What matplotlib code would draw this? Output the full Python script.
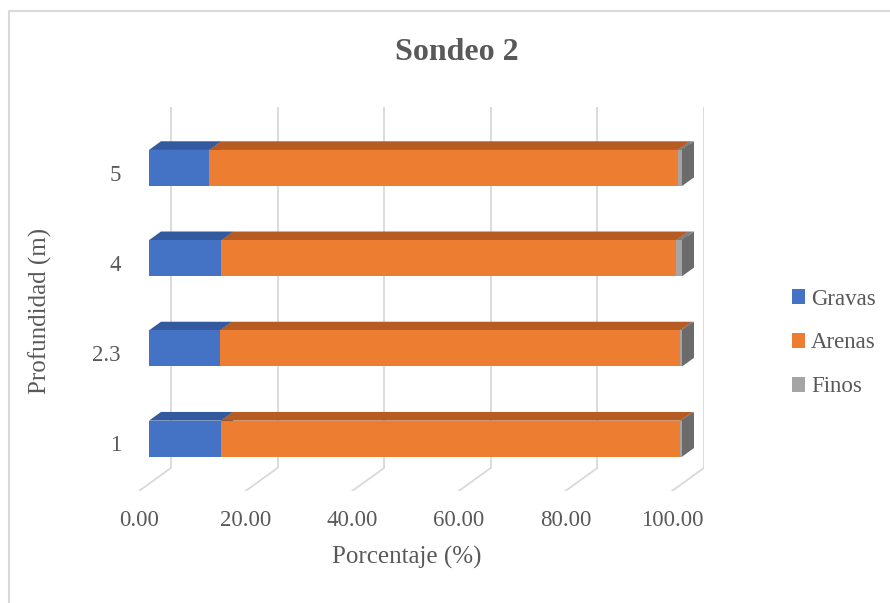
import matplotlib
matplotlib.use("Agg")
import matplotlib.pyplot as plt
from matplotlib.patches import Polygon, Patch
from matplotlib.lines import Line2D

# data
depths = ["1", "2.3", "4", "5"]
gravas = [13.5, 13.3, 13.6, 11.3]
arenas = [86.2, 86.3, 85.3, 87.9]
finos = [0.3, 0.4, 1.1, 0.8]
series_names = ["Gravas", "Arenas", "Finos"]
xticks = [0, 20, 40, 60, 80, 100]

front_cols = ["#4472C4", "#ED7D31", "#A5A5A5"]
top_cols = ["#335A9E", "#B65C22", "#7F7F7F"]
side_cols = ["#2E4F8A", "#A0501D", "#6B6B6B"]
text_col = "#595959"
grid_col = "#D9D9D9"

plt.rcParams["font.family"] = ["Liberation Serif", "DejaVu Serif"]

# oblique projection: depth z in [0, 1] shifts points right and up
KX = 6.0     # x shift at back wall (data units)
KY = 0.256   # y shift at back wall (category units)
Y0, Y1 = -0.5, 3.5
Z_FRONT, Z_BACK = 0.3125, 0.6875
HALF_H = 0.2


def proj(x, y, z):
    return (x + z * KX, y + z * KY)


fig = plt.figure(figsize=(8.9, 6.03), dpi=100)
# chart area border (only top and left edges show in the reference)
fig.lines.append(Line2D([8.5 / 890, 8.5 / 890, 1.0], [0.0, 1 - 10.5 / 603, 1 - 10.5 / 603],
                        transform=fig.transFigure, color="#D9D9D9", lw=1.5))

ax = fig.add_axes([139 / 890, 112 / 603, 565 / 890, 384 / 603])
ax.set_xlim(0, 100 + KX)
ax.set_ylim(Y0, Y1 + KY)
ax.axis("off")

# back wall gridlines and floor lines
for v in xticks:
    bx, by0 = proj(v, Y0, 1)
    _, by1 = proj(v, Y1, 1)
    ax.plot([bx, bx], [by0, by1], color=grid_col, lw=1.3, zorder=1,
            solid_capstyle="butt")
    fx, fy = proj(v, Y0, 0)
    ax.plot([fx, bx], [fy, by0], color=grid_col, lw=1.3, zorder=1)
    ax.text(v, Y0 - 0.33, f"{v:.2f}", ha="center", va="center",
            fontsize=16.5, color=text_col)

# 3D stacked bars
for i, name in enumerate(depths):
    vals = [gravas[i], arenas[i], finos[i]]
    left = 0.0
    for k, w in enumerate(vals):
        x0, x1 = left, left + w
        yb, yt = i - HALF_H, i + HALF_H
        front = [proj(x0, yb, Z_FRONT), proj(x1, yb, Z_FRONT),
                 proj(x1, yt, Z_FRONT), proj(x0, yt, Z_FRONT)]
        top = [proj(x0, yt, Z_FRONT), proj(x1, yt, Z_FRONT),
               proj(x1, yt, Z_BACK), proj(x0, yt, Z_BACK)]
        side = [proj(x1, yb, Z_FRONT), proj(x1, yb, Z_BACK),
                proj(x1, yt, Z_BACK), proj(x1, yt, Z_FRONT)]
        z = 3 + k
        ax.add_patch(Polygon(side, closed=True, facecolor=side_cols[k],
                             edgecolor="none", zorder=z))
        ax.add_patch(Polygon(top, closed=True, facecolor=top_cols[k],
                             edgecolor="none", zorder=z))
        ax.add_patch(Polygon(front, closed=True, facecolor=front_cols[k],
                             edgecolor="none", zorder=z))
        left = x1
    ax.text(-3.4, i, name, ha="right", va="center", fontsize=16.5,
            color=text_col)

fig.text(457 / 890, 1 - 52 / 603, "Sondeo 2", ha="center", va="center",
         fontsize=23, fontweight="bold", color=text_col)
fig.text(407 / 890, 1 - 557 / 603, "Porcentaje (%)", ha="center",
         va="center", fontsize=18, color=text_col)
fig.text(40 / 890, 1 - 311 / 603, "Profundidad (m)", ha="center",
         va="center", rotation=90, fontsize=18, color=text_col)

handles = [Patch(facecolor=c, edgecolor="none", label=n)
           for c, n in zip(front_cols, series_names)]
leg = fig.legend(handles=handles, loc="center left",
                 bbox_to_anchor=(771 / 890, 1 - 343 / 603), frameon=False,
                 fontsize=16.5, handlelength=0.6, handleheight=0.6,
                 handletextpad=0.25, labelspacing=1.0)
for t in leg.get_texts():
    t.set_color(text_col)

fig.savefig("out.png", dpi=100)
